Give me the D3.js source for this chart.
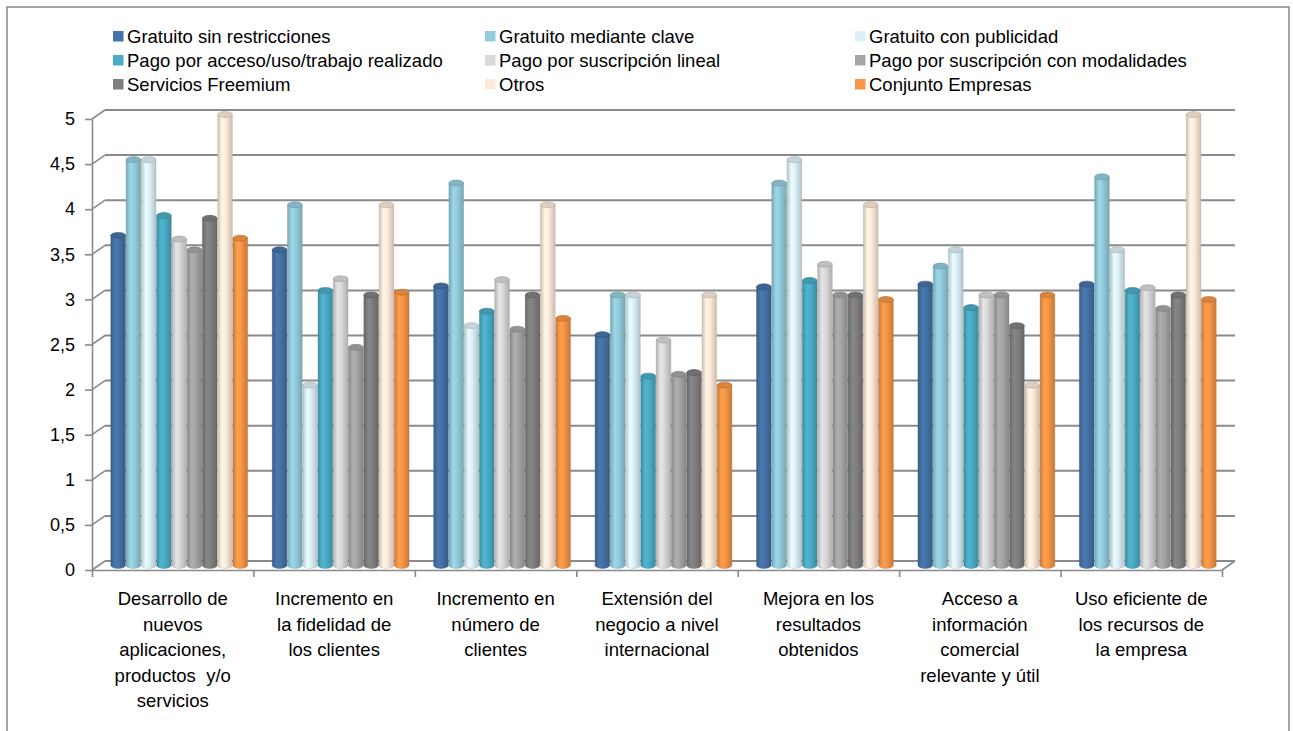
<!DOCTYPE html>
<html>
<head>
<meta charset="utf-8">
<script src="https://cdn.jsdelivr.net/npm/d3@7"></script>
<style>
  html, body { margin: 0; padding: 0; background: #fff; }
  svg { display: block; }
  text { font-family: "Liberation Sans", Arial, sans-serif; fill: #000; }
</style>
</head>
<body>
<svg id="chart" width="1293" height="731"></svg>
<script>
// ---------- DATA ----------
const categories = [
  "Desarrollo de\nnuevos\naplicaciones,\nproductos  y/o\nservicios",
  "Incremento en\nla fidelidad de\nlos clientes",
  "Incremento en\nnúmero de\nclientes",
  "Extensión del\nnegocio a nivel\ninternacional",
  "Mejora en los\nresultados\nobtenidos",
  "Acceso a\ninformación\ncomercial\nrelevante y útil",
  "Uso eficiente de\nlos recursos de\nla empresa"
];
const seriesNames = [
  "Gratuito sin restricciones",
  "Gratuito mediante clave",
  "Gratuito con publicidad",
  "Pago por acceso/uso/trabajo realizado",
  "Pago por suscripción lineal",
  "Pago por suscripción con modalidades",
  "Servicios Freemium",
  "Otros",
  "Conjunto Empresas"
];
const seriesColors = ["#4572A7", "#93CDDD", "#DDF0F7", "#4BACC6", "#D9D9D9", "#A6A6A6", "#7F7F7F", "#FDEADA", "#F79646"];

const gratuitoSinRestricciones   = [3.66, 3.50, 3.10, 2.56, 3.09, 3.12, 3.12];
const gratuitoMedianteClave      = [4.50, 4.00, 4.24, 3.00, 4.24, 3.32, 4.31];
const gratuitoConPublicidad      = [4.50, 2.00, 2.66, 3.00, 4.50, 3.50, 3.50];
const pagoPorAcceso              = [3.88, 3.05, 2.82, 2.10, 3.16, 2.86, 3.05];
const pagoSuscripcionLineal      = [3.62, 3.18, 3.17, 2.50, 3.34, 3.00, 3.08];
const pagoSuscripcionModalidades = [3.50, 2.42, 2.62, 2.12, 3.00, 3.00, 2.85];
const serviciosFreemium          = [3.85, 3.00, 3.00, 2.14, 3.00, 2.66, 3.00];
const otros                      = [5.00, 4.00, 4.00, 3.00, 4.00, 2.00, 5.00];
const conjuntoEmpresas           = [3.63, 3.03, 2.74, 2.00, 2.95, 3.00, 2.95];

const seriesValues = [gratuitoSinRestricciones, gratuitoMedianteClave, gratuitoConPublicidad,
  pagoPorAcceso, pagoSuscripcionLineal, pagoSuscripcionModalidades, serviciosFreemium,
  otros, conjuntoEmpresas];

const yTicks = [0, 0.5, 1, 1.5, 2, 2.5, 3, 3.5, 4, 4.5, 5];
const yTickLabels = ["0", "0,5", "1", "1,5", "2", "2,5", "3", "3,5", "4", "4,5", "5"];

// ---------- LAYOUT ----------
const svg = d3.select("#chart");
const gridColor = "#8a8a8a";

// outer frame
svg.append("rect").attr("x", 7).attr("y", 7).attr("width", 1282).attr("height", 740)
  .attr("fill", "none").attr("stroke", "#888").attr("stroke-width", 1.5);

// 3D geometry: front plane, back plane, mid-depth plane for bars
const front = { x0: 92, x1: 1222, y0: 570, y5: 119 };
const depth = { dx: 13, dy: -9 };

const yFront = d3.scaleLinear().domain([0, 5]).range([front.y0, front.y5]);
const yBack  = d3.scaleLinear().domain([0, 5]).range([front.y0 + depth.dy, front.y5 + depth.dy]);
const yMid   = d3.scaleLinear().domain([0, 5]).range([front.y0 + depth.dy / 2, front.y5 + depth.dy / 2]);

const xFrontLin = d3.scaleLinear().domain([0, categories.length]).range([front.x0, front.x1]);
const x0 = d3.scaleBand().domain(d3.range(categories.length))
  .range([front.x0 + depth.dx / 2, front.x1 + depth.dx / 2])
  .paddingInner(0.145).paddingOuter(0.0725);
const x1 = d3.scaleBand().domain(d3.range(seriesNames.length))
  .range([0, x0.bandwidth()]).padding(0.04);

// back wall gridlines
const grid = svg.append("g");
grid.selectAll("line.back").data(yTicks).join("line")
  .attr("x1", front.x0 + depth.dx).attr("x2", front.x1 + depth.dx)
  .attr("y1", d => yBack(d)).attr("y2", d => yBack(d))
  .attr("stroke", gridColor).attr("stroke-width", 2);
// left wall diagonals
grid.selectAll("line.side").data(yTicks).join("line")
  .attr("x1", front.x0).attr("y1", d => yFront(d))
  .attr("x2", front.x0 + depth.dx).attr("y2", d => yBack(d))
  .attr("stroke", gridColor).attr("stroke-width", 1.6);
// floor right diagonal
grid.append("line")
  .attr("x1", front.x1).attr("y1", yFront(0))
  .attr("x2", front.x1 + depth.dx).attr("y2", yBack(0))
  .attr("stroke", gridColor).attr("stroke-width", 1.6);

// y axis
const yAxis = d3.axisLeft(yFront).tickValues(yTicks)
  .tickFormat((d, i) => yTickLabels[i]).tickSize(7).tickSizeOuter(0).tickPadding(10);
const gy = svg.append("g").attr("transform", `translate(${front.x0},0)`).call(yAxis);
gy.selectAll("path, line").attr("stroke", gridColor).attr("stroke-width", 1.6);
gy.selectAll("text").style("font-family", "Liberation Sans, Arial, sans-serif")
  .style("font-size", "18px").attr("fill", "#000");

// x axis (floor front edge with group ticks)
const xAxis = d3.axisBottom(xFrontLin).tickValues(d3.range(categories.length + 1))
  .tickFormat("").tickSize(7).tickSizeOuter(0);
const gx = svg.append("g").attr("transform", `translate(0,${front.y0})`).call(xAxis);
gx.selectAll("path, line").attr("stroke", gridColor).attr("stroke-width", 1.6);

// category labels
const catG = svg.append("g");
categories.forEach((c, i) => {
  const cx = (xFrontLin(i) + xFrontLin(i + 1)) / 2;
  const t = catG.append("text").attr("text-anchor", "middle")
    .style("font-size", "18.5px");
  c.split("\n").forEach((line, j) => {
    t.append("tspan").attr("x", cx).attr("y", 605 + j * 25.5).text(line)
      .attr("xml:space", "preserve").style("white-space", "pre");
  });
});

// gradients for cylinders
const defs = svg.append("defs");
seriesColors.forEach((col, i) => {
  const c = d3.color(col);
  const g = defs.append("linearGradient").attr("id", "grad" + i)
    .attr("x1", "0%").attr("x2", "100%").attr("y1", "0%").attr("y2", "0%");
  g.append("stop").attr("offset", "0%").attr("stop-color", c.darker(0.55));
  g.append("stop").attr("offset", "30%").attr("stop-color", c.brighter(0.15));
  g.append("stop").attr("offset", "55%").attr("stop-color", c);
  g.append("stop").attr("offset", "100%").attr("stop-color", c.darker(0.6));
});

// bars (cylinders)
const bars = svg.append("g");
categories.forEach((c, ci) => {
  seriesValues.forEach((vals, si) => {
    const v = vals[ci];
    const left = x0(ci) + x1(si);
    const w = x1.bandwidth();
    const rx = w / 2, ry = w * 0.2;
    const top = yMid(v), bottom = yMid(0);
    const col = d3.color(seriesColors[si]);
    const edge = col.darker(0.9);
    bars.append("path")
      .attr("d", `M${left},${top} L${left},${bottom} A${rx},${ry} 0 0 0 ${left + w},${bottom} L${left + w},${top} Z`)
      .attr("fill", `url(#grad${si})`)
      .attr("stroke", edge).attr("stroke-width", 0.6).attr("stroke-opacity", 0.6);
    bars.append("ellipse")
      .attr("cx", left + rx).attr("cy", top).attr("rx", rx).attr("ry", ry)
      .attr("fill", col.darker(0.35)).attr("stroke", edge).attr("stroke-width", 0.6);
  });
});

// legend
const legendCols = [113, 485, 855];
const legendRows = [43, 67, 91];
const lg = svg.append("g");
seriesNames.forEach((name, i) => {
  const cx = legendCols[i % 3], by = legendRows[Math.floor(i / 3)];
  lg.append("rect").attr("x", cx).attr("y", by - 12).attr("width", 10.5).attr("height", 10.5)
    .attr("fill", seriesColors[i]);
  lg.append("text").attr("x", cx + 14).attr("y", by).style("font-size", "18.5px").text(name);
});
</script>
</body>
</html>
